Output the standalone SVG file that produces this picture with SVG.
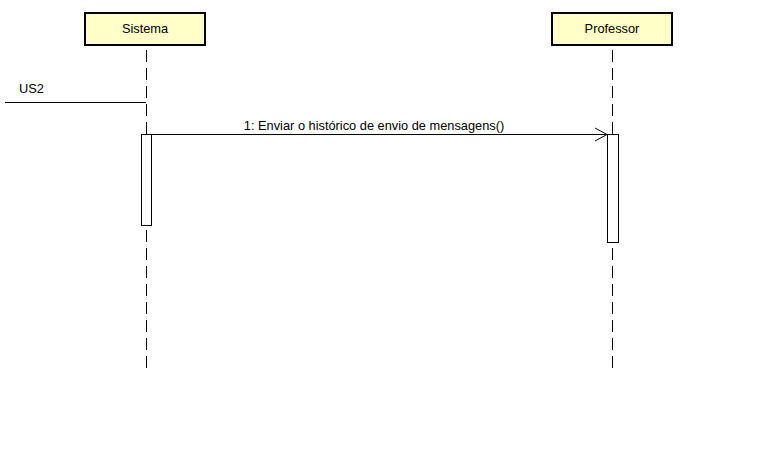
<svg xmlns="http://www.w3.org/2000/svg" width="777" height="476" viewBox="0 0 777 476">
<style>
.box{fill:#ffffc8;stroke:#000;stroke-width:2}
.life{stroke:#000;stroke-width:1;stroke-dasharray:12,6;stroke-dashoffset:14;fill:none}
.act{fill:#fff;stroke:#000;stroke-width:1}
.t{font-family:"Liberation Sans",Arial,sans-serif;font-size:12.8px;fill:#000}
.msg{stroke:#000;stroke-width:1;fill:none}
</style>
<rect width="777" height="476" fill="#fff"/>
<g id="sistema">
<rect class="box" x="85" y="13" width="120" height="32"/>
<text class="t" x="145" y="33" text-anchor="middle">Sistema</text>
<line class="life" x1="146.5" y1="46" x2="146.5" y2="368"/>
<rect class="act" x="141.5" y="134.5" width="10" height="91"/>
</g>
<g id="professor">
<rect class="box" x="552" y="13" width="120" height="32"/>
<text class="t" x="612" y="33" text-anchor="middle">Professor</text>
<line class="life" x1="612.5" y1="46" x2="612.5" y2="368"/>
<rect class="act" x="607.5" y="134.5" width="11" height="108"/>
</g>
<g id="connectors">
<line class="msg" x1="5" y1="102.5" x2="146" y2="102.5"/>
<text class="t" x="19" y="93">US2</text>
<line class="msg" x1="151.5" y1="134.5" x2="607" y2="134.5"/>
<polyline class="msg" points="595,128 607,134.5 595,141"/>
<text class="t" x="374" y="130" text-anchor="middle">1: Enviar o histórico de envio de mensagens()</text>
</g>
</svg>
